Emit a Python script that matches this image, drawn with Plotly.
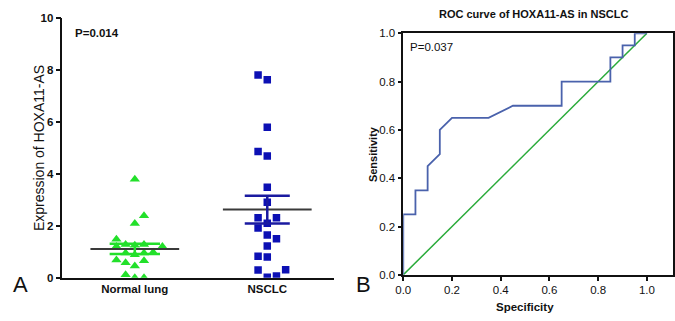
import numpy as np
import plotly.graph_objects as go

# ---------------- data ----------------
categories = ["Normal lung", "NSCLC"]
normal_values = [3.79, 2.38, 2.09, 1.48, 1.20, 1.28, 1.25, 1.28, 1.20, 0.95,
                 0.88, 0.95, 0.98, 0.68, 0.58, 0.65, 0.45, 0.11, 0.00, 0.00]
normal_slot = [0, 1, 0, -2, -2, -1, 0, 1, 3, -1, 0, 1, 2, -2, -1, 1, 0, -1, 0, 1]
nsclc_values = [7.80, 7.62, 5.79, 4.86, 4.68, 3.48, 2.90, 2.31, 2.31, 2.10,
                1.91, 1.64, 1.50, 1.22, 0.83, 0.80, 0.30, 0.31, 0.02, 0.07]
nsclc_slot = [-1, 0, 0, -1, 0, 0, 0, -1, 1, 0, -1, 0, 1, 0, -1, 0, -1, 2, 0, 1]
y_ticks_left = [0, 2, 4, 6, 8, 10]

roc_specificity = [0, 0, 0.05, 0.05, 0.10, 0.10, 0.15, 0.15, 0.20, 0.35, 0.45, 0.65,
                   0.65, 0.85, 0.85, 0.90, 0.90, 0.95, 0.95, 1.0]
roc_sensitivity = [0, 0.25, 0.25, 0.35, 0.35, 0.45, 0.50, 0.60, 0.65, 0.65, 0.70, 0.70,
                   0.80, 0.80, 0.90, 0.90, 0.95, 0.95, 1.0, 1.0]
ref_line = [0, 1]
ticks_right = [0, 0.2, 0.4, 0.6, 0.8, 1.0]

FONT = "Arial, Liberation Sans, sans-serif"
JIT = 0.0694
GREEN = "#22e02a"
BLUE = "#0c10b4"

fig = go.Figure()

def stats(v):
    a = np.array(v)
    return a.mean(), a.std(ddof=1) / np.sqrt(len(a))

xs_n = [1 + s * JIT for s in normal_slot]
xs_c = [2 + s * JIT for s in nsclc_slot]
fig.add_trace(go.Scatter(x=xs_n, y=normal_values, mode="markers",
                         marker=dict(symbol="triangle-up", size=9, color=GREEN),
                         xaxis="x", yaxis="y", showlegend=False))
fig.add_trace(go.Scatter(x=xs_c, y=nsclc_values, mode="markers",
                         marker=dict(symbol="square", size=7.5, color=BLUE),
                         xaxis="x", yaxis="y", showlegend=False))

for i, (vals, col) in enumerate([(normal_values, GREEN), (nsclc_values, "#1a1aa0")]):
    c = i + 1
    m, se = stats(vals)
    fig.add_trace(go.Scatter(x=[c - 0.335, c + 0.335], y=[m, m], mode="lines",
                             line=dict(color="#3a3a3a", width=2),
                             xaxis="x", yaxis="y", showlegend=False))
    hw = 0.19 if i == 0 else 0.17
    fig.add_trace(go.Scatter(x=[c - hw, c + hw, None, c - hw, c + hw, None, c, c],
                             y=[m + se, m + se, None, m - se, m - se, None, m - se, m + se],
                             mode="lines", line=dict(color=col, width=2.5),
                             xaxis="x", yaxis="y", showlegend=False))

fig.add_trace(go.Scatter(x=ref_line, y=ref_line, mode="lines",
                         line=dict(color="#2aab3a", width=1.5),
                         xaxis="x2", yaxis="y2", showlegend=False))
fig.add_trace(go.Scatter(x=roc_specificity, y=roc_sensitivity, mode="lines",
                         line=dict(color="#4a62ac", width=1.8),
                         xaxis="x2", yaxis="y2", showlegend=False))

fig.update_layout(
    width=675, height=321,
    margin=dict(l=0, r=0, t=0, b=0),
    paper_bgcolor="white", plot_bgcolor="white",
    font=dict(family=FONT, color="#111"),
    xaxis=dict(domain=[0.0815, 0.489], range=[0.453, 2.505],
               tickvals=[1, 2], ticktext=["<b>%s</b>" % c for c in categories],
               tickfont=dict(size=11.5, color="#111"),
               showline=True, linecolor="#111", linewidth=1.5,
               ticks="", showgrid=False, zeroline=False, anchor="y"),
    yaxis=dict(domain=[0.1206, 0.9617], range=[0, 10],
               tickvals=y_ticks_left, ticktext=["<b>%d</b>" % t for t in y_ticks_left],
               tickfont=dict(size=11.5, color="#111"),
               showline=True, linecolor="#111", linewidth=1.5,
               ticks="outside", ticklen=5, tickwidth=1.5, tickcolor="#111",
               showgrid=False, zeroline=False, anchor="x"),
    xaxis2=dict(domain=[0.5926, 0.997], range=[0, 1.107],
                tickvals=ticks_right, ticktext=["%.1f" % t for t in ticks_right],
                tickfont=dict(size=11.5, color="#111"),
                showline=True, mirror=True, linecolor="#111", linewidth=1.5,
                ticks="outside", ticklen=4, tickwidth=1.5, tickcolor="#111",
                showgrid=False, zeroline=False, anchor="y2"),
    yaxis2=dict(domain=[0.1299, 0.9118], range=[0, 1.0],
                tickvals=ticks_right, ticktext=["%.1f" % t for t in ticks_right],
                tickfont=dict(size=11.5, color="#111"),
                showline=True, mirror=True, linecolor="#111", linewidth=1.5,
                ticks="outside", ticklen=4, tickwidth=1.5, tickcolor="#111",
                showgrid=False, zeroline=False, anchor="x2"),
    annotations=[
        dict(text="Expression of HOXA11-AS", x=32, y=148, xref="paper", yref="paper",
             xanchor="center", yanchor="middle", textangle=-90, showarrow=False,
             font=dict(size=14, color="#111")),
        dict(text="<b>P=0.014</b>", x=0.04, y=9.4, xref="x domain", yref="y",
             xanchor="left", yanchor="middle", showarrow=False,
             font=dict(size=11.5, color="#111")),
        dict(text="A", x=3, y=289, xref="paper", yref="paper", showarrow=False,
             xanchor="left", yanchor="middle", font=dict(size=22, color="#111")),
        dict(text="B", x=350, y=289, xref="paper", yref="paper", showarrow=False,
             xanchor="left", yanchor="middle", font=dict(size=22, color="#111")),
        dict(text="P=0.037", x=0.02, y=0.945, xref="x2", yref="y2",
             xanchor="left", yanchor="middle", showarrow=False,
             font=dict(size=11.5, color="#111")),
        dict(text="<b>ROC curve of HOXA11-AS in NSCLC</b>", x=532, y=8,
             xref="paper", yref="paper", showarrow=False,
             xanchor="center", yanchor="middle", font=dict(size=11, color="#111")),
        dict(text="<b>Specificity</b>", x=0.5, y=-0.135, xref="x2", yref="y2 domain",
             xanchor="center", yanchor="middle", showarrow=False,
             font=dict(size=11.5, color="#111")),
        dict(text="<b>Sensitivity</b>", x=-0.112, y=0.5, xref="x2 domain", yref="y2 domain",
             xanchor="center", yanchor="middle", textangle=-90, showarrow=False,
             font=dict(size=11, color="#111")),
    ],
)

anns = list(fig.layout.annotations)
for a in anns:
    if a.xref == "paper":
        a.x = a.x / 675.0
        a.y = 1 - a.y / 321.0
fig.layout.annotations = anns

post = """
document.documentElement.style.margin='0';
document.documentElement.style.padding='0';
document.documentElement.style.overflow='hidden';
document.body.style.margin='0';
document.body.style.padding='0';
document.body.style.overflow='hidden';
var gd = document.getElementsByClassName('plotly-graph-div')[0];
gd.style.position='fixed';
gd.style.left='0px';
gd.style.top='0px';
"""
fig.write_html("out.html", config={"displayModeBar": False}, post_script=post)
